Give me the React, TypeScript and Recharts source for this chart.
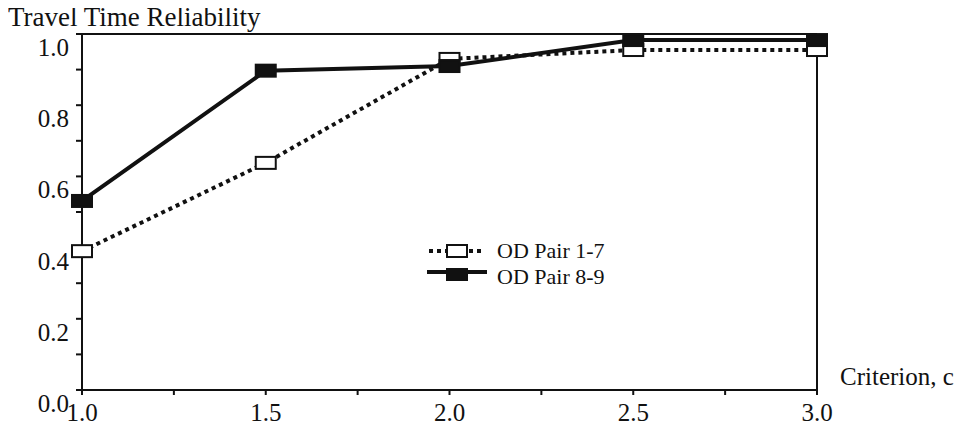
import React from 'react';
import { LineChart, Line, XAxis, YAxis, ReferenceLine } from 'recharts';

const criteria = [1.0, 1.5, 2.0, 2.5, 3.0];
const odPair17 = [0.39, 0.638, 0.93, 0.955, 0.955];
const odPair89 = [0.531, 0.897, 0.91, 0.983, 0.983];
const xTicks = [1.0, 1.25, 1.5, 1.75, 2.0, 2.25, 2.5, 2.75, 3.0];
const yTicks = [0, 0.1, 0.2, 0.3, 0.4, 0.5, 0.6, 0.7, 0.8, 0.9, 1.0];

const data = criteria.map((c, i) => ({ c, a: odPair17[i], b: odPair89[i] }));

const FONT = '"Liberation Serif", "DejaVu Serif", serif';

// rectangles used as markers
const BoxDot: React.FC<any> = ({ cx, cy, filled }) => {
  if (cx == null || cy == null) return null;
  return (
    <rect
      x={cx - 10}
      y={cy - 6}
      width={20}
      height={12}
      fill={filled ? '#111' : '#fff'}
      stroke="#111"
      strokeWidth={2}
    />
  );
};

const isMajor = (v: number, step: number) => Math.abs(v / step - Math.round(v / step)) < 1e-6;

const XTick: React.FC<any> = ({ x, y, payload }) => {
  if (!isMajor(payload.value, 0.5)) return null;
  return (
    <text x={x} y={y + 24} textAnchor="middle" fontFamily={FONT} fontSize={25} fill="#111">
      {payload.value.toFixed(1)}
    </text>
  );
};

const YTick: React.FC<any> = ({ x, y, payload }) => {
  if (!isMajor(payload.value, 0.2)) return null;
  return (
    <text x={x - 5} y={y + 22} textAnchor="end" fontFamily={FONT} fontSize={25} fill="#111">
      {payload.value.toFixed(1)}
    </text>
  );
};

const LegendBox: React.FC = () => (
  <div
    style={{
      position: 'absolute', left: 427, top: 238, fontFamily: FONT, fontSize: 22,
      color: '#111', lineHeight: '26px',
    }}
  >
    <div style={{ display: 'flex', alignItems: 'center', height: 26 }}>
      <svg width={60} height={18}>
        <line x1={2} y1={9} x2={58} y2={9} stroke="#111" strokeWidth={4} strokeDasharray="4 4" />
        <rect x={20} y={3} width={20} height={12} fill="#fff" stroke="#111" strokeWidth={2} />
      </svg>
      <span style={{ marginLeft: 10 }}>OD Pair 1-7</span>
    </div>
    <div style={{ display: 'flex', alignItems: 'center', height: 26 }}>
      <svg width={60} height={18}>
        <line x1={0} y1={4} x2={60} y2={4} stroke="#111" strokeWidth={4} />
        <rect x={20} y={0} width={20} height={12} fill="#111" stroke="#111" strokeWidth={2} />
      </svg>
      <span style={{ marginLeft: 10 }}>OD Pair 8-9</span>
    </div>
  </div>
);

export default function App() {
  return (
    <div style={{ position: 'relative', width: 970, height: 429, background: '#fff', margin: -8 }}>
      <div
        style={{
          position: 'absolute', left: 8, top: 2, fontFamily: FONT, fontSize: 27, color: '#111',
          lineHeight: '30px',
        }}
      >
        Travel Time Reliability
      </div>
      <div
        style={{
          position: 'absolute', left: 840, top: 362, fontFamily: FONT, fontSize: 25, color: '#111',
          lineHeight: '30px',
        }}
      >
        Criterion, c
      </div>
      <LineChart
        width={970}
        height={429}
        data={data}
        margin={{ top: 34, right: 153, bottom: 0, left: 0 }}
      >
        <XAxis
          dataKey="c"
          type="number"
          domain={[1, 3]}
          ticks={xTicks}
          interval={0}
          tick={<XTick />}
          tickSize={5}
          height={39}
          axisLine={{ stroke: '#111', strokeWidth: 2 }}
          tickLine={{ stroke: '#111', strokeWidth: 2 }}
        />
        <YAxis
          type="number"
          domain={[0, 1]}
          ticks={yTicks}
          interval={0}
          tick={<YTick />}
          tickSize={6}
          width={82}
          axisLine={{ stroke: '#111', strokeWidth: 2 }}
          tickLine={{ stroke: '#111', strokeWidth: 2 }}
        />
        <ReferenceLine y={1} stroke="#111" strokeWidth={2} />
        <ReferenceLine x={3} stroke="#111" strokeWidth={2} />
        <Line
          dataKey="a"
          stroke="#111"
          strokeWidth={4}
          strokeDasharray="4 4"
          dot={<BoxDot filled={false} />}
          isAnimationActive={false}
        />
        <Line
          dataKey="b"
          stroke="#111"
          strokeWidth={4}
          dot={<BoxDot filled />}
          isAnimationActive={false}
        />
      </LineChart>
      <LegendBox />
    </div>
  );
}
